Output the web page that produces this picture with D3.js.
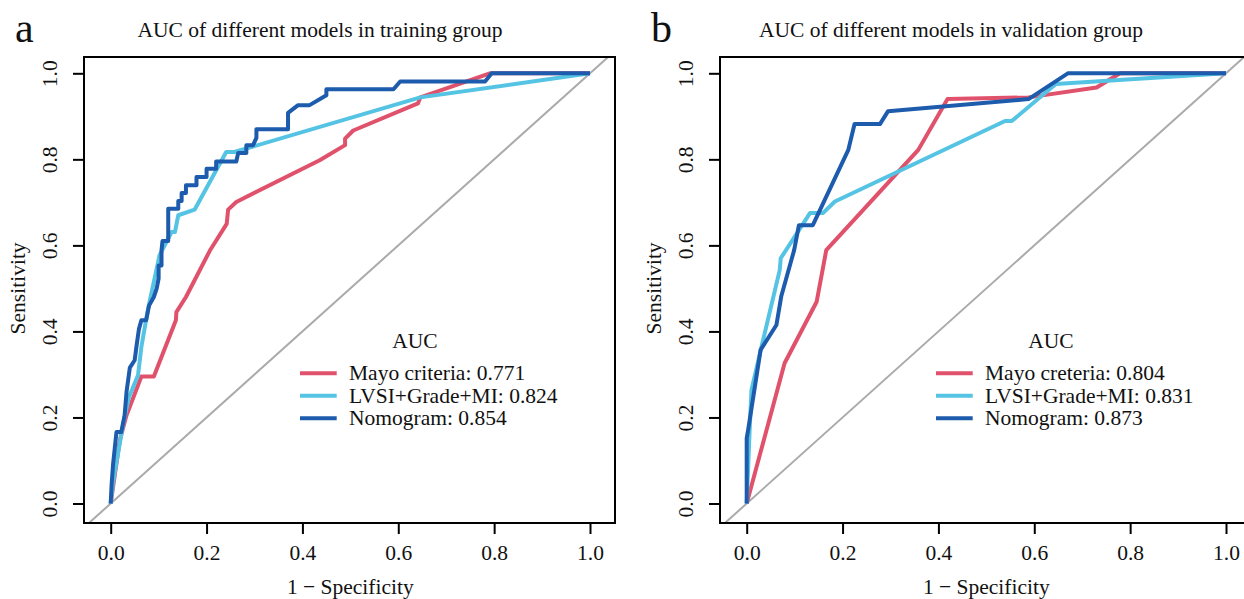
<!DOCTYPE html>
<html>
<head>
<meta charset="utf-8">
<script src="https://cdn.jsdelivr.net/npm/d3@7"></script>
<style>
  body { margin: 0; background: #fff; }
  svg { display: block; }
  svg text { font-family: "Liberation Serif", "Times New Roman", serif; fill: #111; }
</style>
</head>
<body>
<svg id="chart" width="1244" height="599"></svg>
<script>
// ROC points, [1 - specificity, sensitivity]
var trainMayo = [[0,0],[0.019,0.147],[0.033,0.205],[0.064,0.295],[0.090,0.295],[0.136,0.426],[0.137,0.445],
    [0.157,0.480],[0.207,0.588],[0.242,0.650],[0.245,0.683],[0.262,0.701],[0.436,0.798],[0.489,0.833],
    [0.489,0.848],[0.506,0.867],[0.641,0.930],[0.646,0.944],[0.791,1],[1,1]];
var trainLvsi = [[0,0],[0.005,0.05],[0.026,0.185],[0.038,0.247],[0.057,0.298],[0.064,0.364],[0.078,0.453],
    [0.102,0.577],[0.127,0.631],[0.134,0.631],[0.141,0.670],[0.175,0.683],[0.241,0.817],[0.258,0.817],
    [0.646,0.944],[1,1]];
var trainNomo = [[0,0],[0.002,0.046],[0.005,0.092],[0.012,0.166],[0.022,0.166],[0.029,0.205],[0.033,0.259],
    [0.040,0.316],[0.050,0.333],[0.054,0.367],[0.059,0.406],[0.064,0.426],[0.074,0.426],[0.080,0.460],
    [0.090,0.480],[0.096,0.500],[0.100,0.523],[0.100,0.553],[0.106,0.553],[0.106,0.588],[0.108,0.610],
    [0.120,0.610],[0.120,0.685],[0.141,0.685],[0.141,0.703],[0.148,0.703],[0.148,0.722],[0.157,0.722],
    [0.157,0.740],[0.179,0.740],[0.179,0.759],[0.200,0.759],[0.200,0.778],[0.220,0.778],[0.220,0.795],
    [0.262,0.795],[0.266,0.815],[0.283,0.815],[0.283,0.833],[0.297,0.833],[0.304,0.850],[0.304,0.870],
    [0.370,0.870],[0.370,0.908],[0.391,0.926],[0.415,0.926],[0.450,0.949],[0.450,0.963],[0.590,0.963],
    [0.604,0.981],[0.781,0.981],[0.795,1],[1,1]];

var validMayo = [[0,0],[0.079,0.326],[0.146,0.469],[0.166,0.589],[0.358,0.822],[0.419,0.940],[0.588,0.944],
    [0.730,0.967],[0.779,1],[1,1]];
var validLvsi = [[0,0],[0.006,0.167],[0.010,0.264],[0.031,0.365],[0.069,0.543],[0.071,0.570],[0.132,0.675],
    [0.159,0.675],[0.184,0.702],[0.539,0.889],[0.553,0.889],[0.645,0.975],[1,1]];
var validNomo = [[0,0],[0,0.152],[0.003,0.171],[0.029,0.357],[0.062,0.415],[0.072,0.481],[0.099,0.589],
    [0.109,0.647],[0.138,0.647],[0.212,0.822],[0.225,0.882],[0.278,0.882],[0.295,0.912],[0.588,0.940],
    [0.670,1],[1,1]];

var ticks = [0, 0.2, 0.4, 0.6, 0.8, 1.0];
var colors = ["#E0526B", "#55C3E3", "#1D5BAD"];
var titles = ["AUC of different models in training group", "AUC of different models in validation group"];
var letters = ["a", "b"];
var legendTrain = ["Mayo criteria: 0.771", "LVSI+Grade+MI: 0.824", "Nomogram: 0.854"];
var legendValid = ["Mayo creteria: 0.804", "LVSI+Grade+MI: 0.831", "Nomogram: 0.873"];

var panels = [
    { dx: 0, series: [trainMayo, trainLvsi, trainNomo], legend: legendTrain, titleX: 320 },
    { dx: 636, series: [validMayo, validLvsi, validNomo], legend: legendValid, titleX: 951 }
];

var svg = d3.select("#chart");

// shared scales, each panel is shifted by dx
var x = d3.scaleLinear().domain([0, 1]).range([110.7, 590]);
var y = d3.scaleLinear().domain([0, 1]).range([503.5, 73.3]);
var box = { left: 84, right: 615, top: 57, bottom: 523 };
var fs = "21.5px";

var line = d3.line()
    .x(d => x(d[0]))
    .y(d => y(d[1]));

panels.forEach((p, i) => {
    var g = svg.append("g").attr("transform", `translate(${p.dx},0)`);

    g.append("defs").append("clipPath").attr("id", "clip" + i)
        .append("rect")
        .attr("x", box.left).attr("y", box.top)
        .attr("width", box.right - box.left).attr("height", box.bottom - box.top);

    // panel letter + title
    g.append("text").attr("x", 15).attr("y", 42)
        .style("font-size", "42px").text(letters[i]);
    svg.append("text").attr("x", p.titleX).attr("y", 37)
        .attr("text-anchor", "middle").style("font-size", fs).text(titles[i]);

    var plot = g.append("g").attr("clip-path", `url(#clip${i})`);

    // chance line
    plot.append("line")
        .attr("x1", x(-0.1)).attr("y1", y(-0.1))
        .attr("x2", x(1.1)).attr("y2", y(1.1))
        .attr("stroke", "#aaaaaa").attr("stroke-width", 2);

    p.series.forEach((s, k) => {
        plot.append("path")
            .datum(s)
            .attr("d", line)
            .attr("fill", "none")
            .attr("stroke", colors[k])
            .attr("stroke-width", 4)
            .attr("stroke-linejoin", "round");
    });

    g.append("rect")
        .attr("x", box.left).attr("y", box.top)
        .attr("width", box.right - box.left).attr("height", box.bottom - box.top)
        .attr("fill", "none").attr("stroke", "#000").attr("stroke-width", 2);

    // x axis
    var xa = g.append("g").attr("transform", `translate(0,${box.bottom})`)
        .call(d3.axisBottom(x).tickValues(ticks).tickSize(11).tickPadding(11).tickFormat(d3.format(".1f")));
    xa.select(".domain").remove();
    xa.selectAll("line").attr("stroke-width", 2);
    xa.selectAll("text").style("font-size", fs);

    // y axis, labels turned like base R
    var ya = g.append("g").attr("transform", `translate(${box.left},0)`)
        .call(d3.axisLeft(y).tickValues(ticks).tickSize(11).tickFormat(d3.format(".1f")));
    ya.select(".domain").remove();
    ya.selectAll("line").attr("stroke-width", 2);
    ya.selectAll("text")
        .attr("transform", "rotate(-90)")
        .attr("x", 0).attr("y", -27).attr("dy", 0)
        .attr("text-anchor", "middle")
        .style("font-size", fs);

    // axis titles
    g.append("text").attr("x", (x(0) + x(1)) / 2).attr("y", 594)
        .attr("text-anchor", "middle").style("font-size", fs).text("1 \u2212 Specificity");
    g.append("text")
        .attr("transform", `translate(25,${(y(0) + y(1)) / 2}) rotate(-90)`)
        .attr("text-anchor", "middle").style("font-size", fs).text("Sensitivity");

    // legend
    var lg = g.append("g");
    lg.append("text").attr("x", 415).attr("y", 348)
        .attr("text-anchor", "middle").style("font-size", fs).text("AUC");
    p.legend.forEach((t, k) => {
        var ly = 373.3 + k * 22.5;
        lg.append("line").attr("x1", 300).attr("x2", 336.7).attr("y1", ly).attr("y2", ly)
            .attr("stroke", colors[k]).attr("stroke-width", 4);
        lg.append("text").attr("x", 349).attr("y", ly + 7)
            .style("font-size", fs).text(t);
    });
});
</script>
</body>
</html>
